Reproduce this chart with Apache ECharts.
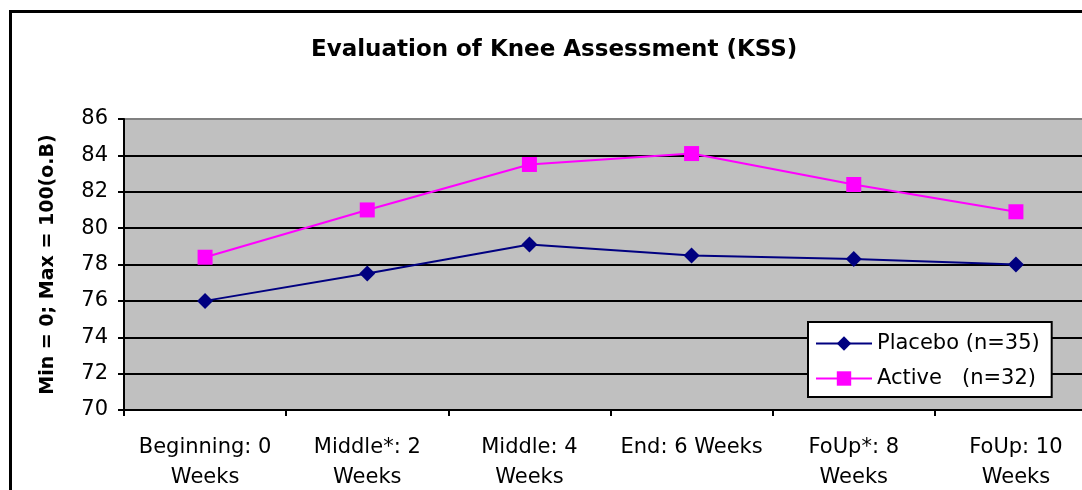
<!DOCTYPE html>
<html>
<head>
<meta charset="utf-8">
<title>Evaluation of Knee Assessment (KSS)</title>
<script src="https://cdn.jsdelivr.net/npm/echarts@6/dist/echarts.min.js"></script>
<style>
  html, body { margin: 0; padding: 0; background: #fff; overflow: hidden; }
  /* the plot runs past the right edge in the reference, so the canvas is wider than the window */
  #chart { width: 1110px; height: 490px; }
</style>
</head>
<body>
<div id="chart"></div>
<script>
// data
const categories = [
  'Beginning: 0\nWeeks',
  'Middle*: 2\nWeeks',
  'Middle: 4\nWeeks',
  'End: 6 Weeks',
  'FoUp*: 8\nWeeks',
  'FoUp: 10\nWeeks'
]
const placeboValues = [76.0, 77.5, 79.1, 78.5, 78.3, 78.0]
const activeValues = [78.4, 81.0, 83.5, 84.1, 82.4, 80.9]
const seriesNames = ['Placebo (n=35)', 'Active   (n=32)']

const FONT = 'DejaVu Sans'
const chart = echarts.init(document.getElementById('chart'), null, { renderer: 'canvas' })

const option = {
  backgroundColor: '#ffffff',
  animation: false,
  title: {
    text: 'Evaluation of Knee Assessment (KSS)',
    left: 306,
    top: 34,
    textStyle: { fontFamily: FONT, fontSize: 23, fontWeight: 'bold', color: '#000' }
  },
  graphic: [
    {
      type: 'rect',
      shape: { x: 10.5, y: 11.5, width: 1120, height: 500 },
      style: { fill: 'none', stroke: '#000', lineWidth: 3 },
      silent: true,
      z: 100
    }
  ],
  legend: {
    orient: 'vertical',
    left: 808,
    top: 322,
    data: seriesNames,
    backgroundColor: '#ffffff',
    borderColor: '#000',
    borderWidth: 2,
    borderRadius: 0,
    padding: [11, 12, 8, 7],
    itemWidth: 56,
    itemHeight: 18,
    itemGap: 14,
    textStyle: { fontFamily: FONT, fontSize: 21, color: '#000' }
  },
  grid: {
    left: 124,
    top: 119,
    width: 973,
    height: 291,
    outerBoundsMode: 'none',
    containLabel: false,
    show: true,
    backgroundColor: '#c0c0c0',
    borderWidth: 0
  },
  xAxis: {
    type: 'category',
    data: categories,
    boundaryGap: true,
    axisLine: { show: true, lineStyle: { color: '#000', width: 2 } },
    axisTick: { show: true, length: 6, lineStyle: { color: '#000', width: 2 } },
    axisLabel: {
      fontFamily: FONT, fontSize: 21, color: '#000',
      lineHeight: 30, margin: 23, interval: 0
    },
    splitLine: { show: false }
  },
  yAxis: {
    type: 'value',
    min: 70,
    max: 86,
    interval: 2,
    name: 'Min = 0; Max = 100(o.B)',
    nameLocation: 'middle',
    nameGap: 66,
    nameRotate: 90,
    nameTextStyle: { fontFamily: FONT, fontSize: 19, fontWeight: 'bold', color: '#000' },
    axisLine: { show: true, lineStyle: { color: '#000', width: 2 } },
    axisTick: { show: true, length: 6, lineStyle: { color: '#000', width: 2 } },
    axisLabel: { fontFamily: FONT, fontSize: 21, color: '#000', margin: 16 },
    splitLine: {
      show: true,
      lineStyle: {
        color: ['#000', '#000', '#000', '#000', '#000', '#000', '#000', '#000', '#808080'],
        width: 2
      }
    }
  },
  series: [
    {
      name: seriesNames[0],
      type: 'line',
      data: placeboValues,
      symbol: 'diamond',
      symbolSize: 16,
      itemStyle: { color: '#000080' },
      lineStyle: { color: '#000080', width: 2 },
      z: 3
    },
    {
      name: seriesNames[1],
      type: 'line',
      data: activeValues,
      symbol: 'rect',
      symbolSize: 15,
      itemStyle: { color: '#ff00ff' },
      lineStyle: { color: '#ff00ff', width: 2 },
      z: 3
    }
  ]
}

chart.setOption(option)
</script>
</body>
</html>
